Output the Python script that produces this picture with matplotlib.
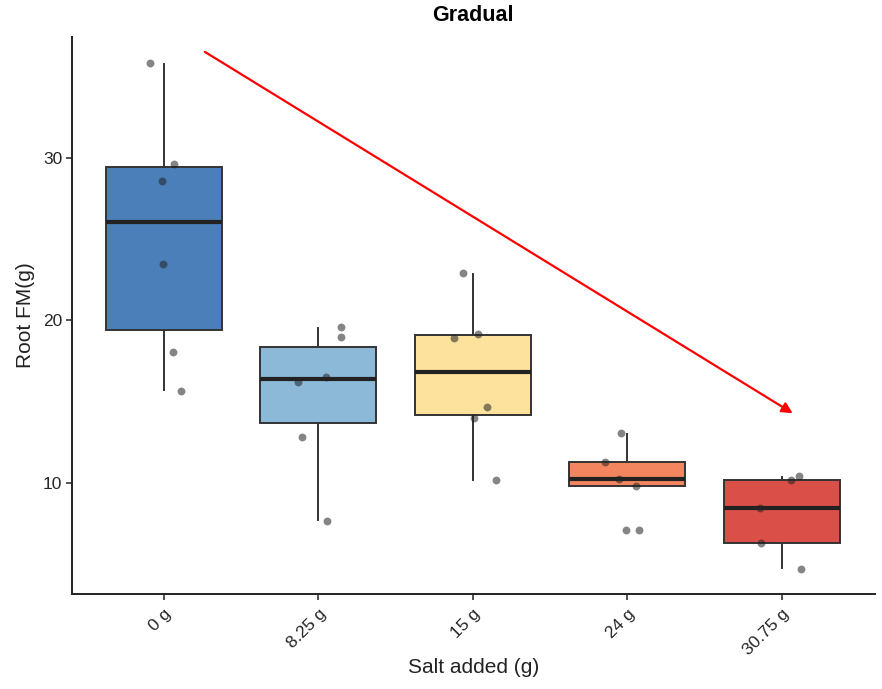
import numpy as np
import matplotlib
matplotlib.use("Agg")
import matplotlib.pyplot as plt

plt.rcParams['font.family'] = ['Liberation Sans', 'DejaVu Sans']

# categories and colours
groups = ['0 g', '8.25 g', '15 g', '24 g', '30.75 g']
fills = ['#4A7FB9', '#8CB9D8', '#FDE29E', '#F4865F', '#DA4F47']

# box statistics
q1 = [19.42, 13.69, 14.20, 9.83, 6.35]
med = [26.03, 16.39, 16.84, 10.25, 8.48]
q3 = [29.43, 18.39, 19.11, 11.33, 10.20]
whislo = [15.73, 7.75, 10.20, 9.83, 4.78]
whishi = [35.76, 19.52, 22.86, 13.00, 10.40]

# individual points (value, horizontal jitter offset)
pts_0 = [35.8, 29.63, 28.57, 23.45, 18.08, 15.67]
jit_0 = [-0.09, 0.065, -0.013, -0.006, 0.058, 0.11]
pts_825 = [19.58, 18.99, 16.2, 16.55, 12.86, 7.68]
jit_825 = [0.149, 0.149, -0.13, 0.052, -0.104, 0.058]
pts_15 = [22.9, 18.92, 19.17, 14.7, 14.01, 10.18]
jit_15 = [-0.065, -0.123, 0.032, 0.09, 0.006, 0.149]
pts_24 = [13.07, 11.33, 10.25, 9.83, 7.13, 7.13]
jit_24 = [-0.039, -0.142, -0.052, 0.058, -0.006, 0.078]
pts_3075 = [10.47, 10.2, 8.48, 6.35, 4.75]
jit_3075 = [0.11, 0.058, -0.142, -0.136, 0.123]

points = [pts_0, pts_825, pts_15, pts_24, pts_3075]
jitter = [jit_0, jit_825, jit_15, jit_24, jit_3075]


def main():
    fig = plt.figure(figsize=(8.82, 6.89), dpi=100)
    ax = fig.add_axes([0.0816, 0.138, 0.91, 0.808])

    stats = []
    for i in range(len(groups)):
        stats.append({'q1': q1[i], 'med': med[i], 'q3': q3[i],
                      'whislo': whislo[i], 'whishi': whishi[i],
                      'label': groups[i], 'fliers': []})
    pos = np.arange(1, len(groups) + 1)
    bp = ax.bxp(stats, positions=pos, widths=0.75, patch_artist=True,
                showcaps=False, showfliers=False,
                boxprops=dict(edgecolor='#333333', linewidth=1.4),
                whiskerprops=dict(color='#333333', linewidth=1.4),
                medianprops=dict(color='#222222', linewidth=3))
    for patch, c in zip(bp['boxes'], fills):
        patch.set_facecolor(c)

    for i in range(len(groups)):
        xs = pos[i] + np.array(jitter[i])
        ax.scatter(xs, points[i], s=32, color='#222222', alpha=0.55,
                   linewidths=0, zorder=5)

    ax.annotate('', xy=(5.07, 14.3), xytext=(1.265, 36.5),
                arrowprops=dict(arrowstyle='-|>', color='red', lw=1.6,
                                mutation_scale=16, shrinkA=0, shrinkB=0))

    ax.set_xlim(0.405, 5.6)
    ax.set_ylim(3.2, 37.4)
    ax.set_yticks([10, 20, 30])
    ax.set_xticks(pos)
    ax.set_xticklabels(groups, rotation=45, ha='right', rotation_mode='anchor')
    ax.tick_params(labelsize=12.5, colors='#333333', length=4, width=1.2)
    ax.tick_params(axis='x', labelcolor='#262626', pad=5)
    ax.tick_params(axis='y', labelcolor='#262626', pad=3)
    for s in ['top', 'right']:
        ax.spines[s].set_visible(False)
    for s in ['left', 'bottom']:
        ax.spines[s].set_linewidth(1.4)
        ax.spines[s].set_color('#222222')

    ax.set_xlabel('Salt added (g)', fontsize=15, labelpad=0, color='#222222')
    ax.set_ylabel('Root FM(g)', fontsize=15, labelpad=6, color='#222222')
    ax.set_title('Gradual', fontsize=15.5, fontweight='bold', pad=12)

    fig.savefig('out.png', dpi=100)


if __name__ == '__main__': main()
